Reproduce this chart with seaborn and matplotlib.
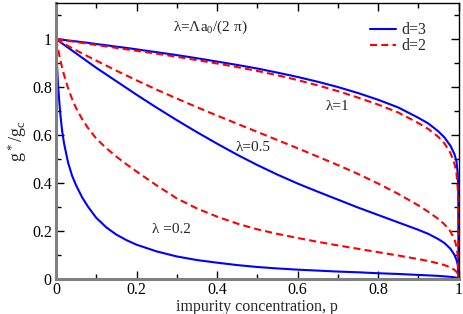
import numpy as np
import pandas as pd
import seaborn as sns
import matplotlib.pyplot as plt
from matplotlib.lines import Line2D
from matplotlib.ticker import MultipleLocator, FuncFormatter

# impurity concentration grid shared by all curves
P = [0, 0.0025, 0.005, 0.01, 0.015, 0.02, 0.03, 0.04, 0.05, 0.065, 0.08, 0.1, 0.125,
     0.15, 0.175, 0.2, 0.25, 0.3, 0.35, 0.4, 0.45, 0.5, 0.55, 0.6, 0.65, 0.7, 0.75,
     0.8, 0.85, 0.9, 0.925, 0.95, 0.965, 0.98, 0.99, 0.995, 0.998, 0.9995, 1.0]

# g*/gc
G_D3_L1 = [1.0, 0.9995, 0.999, 0.998, 0.997, 0.996, 0.994, 0.992, 0.99, 0.987, 0.984,
           0.979, 0.974, 0.968, 0.963, 0.957, 0.945, 0.933, 0.92, 0.906, 0.892, 0.877,
           0.86, 0.842, 0.822, 0.8, 0.775, 0.747, 0.715, 0.672, 0.648, 0.615, 0.59,
           0.555, 0.52, 0.49, 0.44, 0.38, 0.0]
G_D2_L1 = [1.0, 0.9993, 0.9987, 0.9975, 0.9963, 0.995, 0.992, 0.99, 0.987, 0.984, 0.98,
           0.975, 0.969, 0.963, 0.957, 0.951, 0.939, 0.926, 0.912, 0.898, 0.883, 0.867,
           0.849, 0.829, 0.807, 0.783, 0.756, 0.727, 0.694, 0.65, 0.625, 0.592, 0.565,
           0.525, 0.48, 0.44, 0.38, 0.3, 0.0]
G_D3_L05 = [1.0, 0.997, 0.994, 0.988, 0.982, 0.976, 0.964, 0.952, 0.94, 0.922, 0.904,
            0.88, 0.852, 0.824, 0.796, 0.768, 0.714, 0.662, 0.612, 0.564, 0.518, 0.475,
            0.435, 0.398, 0.364, 0.331, 0.298, 0.267, 0.236, 0.205, 0.188, 0.166, 0.15,
            0.126, 0.1, 0.08, 0.06, 0.035, 0.0]
G_D2_L05 = [1.0, 0.997, 0.995, 0.99, 0.985, 0.98, 0.971, 0.962, 0.953, 0.94, 0.927,
            0.91, 0.889, 0.868, 0.848, 0.828, 0.789, 0.752, 0.716, 0.681, 0.647, 0.613,
            0.579, 0.545, 0.51, 0.475, 0.438, 0.398, 0.355, 0.307, 0.28, 0.25, 0.228,
            0.198, 0.165, 0.135, 0.1, 0.06, 0.0]
G_D3_L02 = [1.0, 0.89, 0.81, 0.7, 0.62, 0.565, 0.485, 0.43, 0.39, 0.34, 0.3,
            0.255, 0.215, 0.185, 0.162, 0.143, 0.115, 0.094, 0.079, 0.068, 0.058, 0.05,
            0.044, 0.039, 0.035, 0.031, 0.028, 0.024, 0.021, 0.017, 0.015, 0.013, 0.011,
            0.009, 0.007, 0.005, 0.003, 0.001, 0.0]
G_D2_L02 = [1.0, 0.98, 0.96, 0.918, 0.882, 0.85, 0.795, 0.75, 0.712, 0.666, 0.628,
            0.585, 0.545, 0.51, 0.478, 0.448, 0.39, 0.336, 0.294, 0.26, 0.231, 0.207,
            0.188, 0.171, 0.155, 0.14, 0.126, 0.112, 0.098, 0.083, 0.075, 0.065, 0.058,
            0.048, 0.038, 0.03, 0.02, 0.01, 0.0]

CURVES = [("d=3", "1", G_D3_L1), ("d=3", "0.5", G_D3_L05), ("d=3", "0.2", G_D3_L02),
          ("d=2", "1", G_D2_L1), ("d=2", "0.5", G_D2_L05), ("d=2", "0.2", G_D2_L02)]

COLORS = {"d=3": "#0000ff", "d=2": "#ff0000"}
DASHES = {"d=3": "", "d=2": (3.4, 2.0)}

frames = []
for d, lam, g in CURVES:
    frames.append(pd.DataFrame({"p": P, "g": g, "d": d, "lam": lam}))
df = pd.concat(frames, ignore_index=True)

sns.set_theme(style="ticks")
plt.rcParams["font.family"] = ["Liberation Serif", "DejaVu Serif"]
plt.rcParams["mathtext.fontset"] = "custom"
plt.rcParams["mathtext.rm"] = "Liberation Serif"

fig = plt.figure(figsize=(4.63, 3.14), dpi=100, facecolor="white")
ax = fig.add_axes([56 / 463, 35 / 314, 402.5 / 463, 276 / 314])

sns.lineplot(data=df, x="p", y="g", hue="d", style="d", units="lam", estimator=None,
             palette=COLORS, dashes=DASHES, hue_order=["d=3", "d=2"], linewidth=1.5,
             legend=False, ax=ax)

ax.set_xlim(0, 1)
ax.set_ylim(0, 1.15)
ax.xaxis.set_major_locator(MultipleLocator(0.2))
ax.xaxis.set_minor_locator(MultipleLocator(0.1))
ax.yaxis.set_major_locator(MultipleLocator(0.2))
ax.yaxis.set_minor_locator(MultipleLocator(0.1))
fmt = FuncFormatter(lambda v, pos: "%g" % round(v, 2))
ax.xaxis.set_major_formatter(fmt)
ax.yaxis.set_major_formatter(fmt)
ax.tick_params(which="both", direction="in", top=True, right=True, labelsize=11.5,
               color="black", labelcolor="black")
ax.tick_params(which="major", length=6, width=1)
ax.tick_params(which="minor", length=3.5, width=1)
ax.tick_params(axis="x", pad=2)
ax.tick_params(axis="y", pad=3)

for side in ["left", "bottom"]:
    ax.spines[side].set_color("#808080")
    ax.spines[side].set_linewidth(2.2)
for side in ["top", "right"]:
    ax.spines[side].set_color("black")
    ax.spines[side].set_linewidth(1)

ax.set_xlabel("impurity concentration, p", fontsize=11.5)
ax.xaxis.set_label_coords(0.5, -0.072)
ax.set_ylabel(r"g$\mathregular{^*}$/g$\mathregular{_c}$", fontsize=13, labelpad=2)

ax.text(0.383, 1.05, r"λ=Λa$\mathregular{_0}$/(2 π)", fontsize=11, ha="center", va="center")
ax.text(0.70, 0.718, "λ=1", fontsize=11, ha="center", va="center")
ax.text(0.49, 0.546, "λ=0.5", fontsize=11, ha="center", va="center")
ax.text(0.286, 0.208, "λ =0.2", fontsize=11, ha="center", va="center")

handles = [Line2D([], [], color=COLORS["d=3"], lw=1.5),
           Line2D([], [], color=COLORS["d=2"], lw=1.5, dashes=DASHES["d=2"])]
ax.legend(handles, ["d=3", "d=2"], loc="upper left", bbox_to_anchor=(0.78, 0.93),
          frameon=False, fontsize=11.5, handlelength=1.6, handletextpad=0.35,
          labelspacing=0.0, borderaxespad=0, borderpad=0)

fig.savefig("out.png", dpi=100)
